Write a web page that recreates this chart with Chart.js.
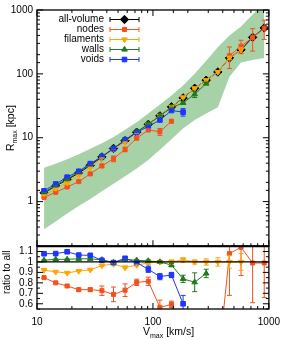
<!DOCTYPE html>
<html><head><meta charset="utf-8">
<script src="https://cdn.jsdelivr.net/npm/chart.js@4.4.1/dist/chart.umd.min.js"></script>
<style>html,body{margin:0;padding:0;background:#fff}#wrap{position:relative;width:287px;height:340px}</style>
</head><body><div id="wrap"><canvas id="c" width="287" height="340"></canvas></div>
<script>
// ---- data ----
const vmax = [11.5,14.5,18.2,22.9,28.8,36.3,45.7,57.5,72.4,91.2,114.8,144.5,182,229,288,363,457,575,724,912];
const allVolume = [1.37,1.75,2.2,2.8,3.7,5.0,6.8,9.0,12.2,16.2,22.0,30.5,42,59.5,79.5,107,178,238,373,524];
const bandHigh = [3.4,3.9,4.6,5.5,6.7,8.2,10.3,13.3,17.5,24,33,46,66,100,160,260,400,550,850,1300];
const bandLow = [0.37,0.49,0.65,0.85,1.1,1.45,1.9,2.5,3.3,4.5,6.5,9.5,14,19,24,30,90,150,165,178];
const nodesRatio = [0.85,0.80,0.77,0.735,0.735,0.725,0.69,0.73,0.805,0.815,0.565,0.595,0,0,0,0,1.08,1.14,0.99,0.99];
const nodesErr = [0.008,0.008,0.01,0.015,0.015,0.045,0.07,0.06,0.03,0.04,0.07,0.03,0,0,0,0,0.4,0.27,0.38,0.33];
const filamentsRatio = [0.922,0.905,0.895,0.913,0.925,0.965,0.98,0.947,0.97,0.99,1.0,1.0,1.02,1.0,1.0,1.0,1.0,1.0,null,null];
const filamentsErr = [0.004,0.004,0.005,0.005,0.006,0.007,0.008,0.01,0.01,0.012,0.015,0.02,0.02,0.02,0.03,0.04,0.06,0.08,null,null];
const wallsRatio = [1.016,1.025,1.025,1.03,1.03,1.02,0.994,1.025,1.016,1.01,1.0,0.97,0.838,0.806,0.89,null,null,null,null,null];
const wallsErr = [0.003,0.003,0.003,0.004,0.004,0.005,0.006,0.007,0.008,0.01,0.012,0.015,0.035,0.09,0.04,null,null,null,null,null];
const voidsRatio = [1.078,1.08,1.097,1.066,1.063,1.016,0.994,1.035,0.994,0.93,0.86,0.875,0.60,null,null,null,null,null,null,null];
const voidsErr = [0.003,0.003,0.004,0.005,0.006,0.008,0.02,0.01,0.01,0.03,0.03,0.025,0.08,null,null,null,null,null,null,null];
const xTickLabels = [10,100,1000];
const yTickLabels = [1,10,100,1000];
const ratioTickLabels = [0.6,0.7,0.8,0.9,1,1.1];
const seriesNames = ['all-volume','nodes','filaments','walls','voids'];

// ---- styling ----
const FONT = "'Liberation Sans', Arial, Helvetica, sans-serif";
Chart.defaults.font.family = FONT;
Chart.defaults.font.size = 10;
Chart.defaults.color = '#000';
const COL = {all:'#000000', nodes:'#f4511e', fil:'#ffa500', walls:'#1e7b1e', voids:'#1f35ff'};
const STY = {all:['diamond',4.2], nodes:['square',2.8], fil:['tridown',3.2], walls:['tri',3.2], voids:['square',3.2]};

function pts(arr){ return vmax.map((x,i)=>({x:x, y:(arr[i]===null||arr[i]===0)?null:arr[i]})); }
function ratioPts(arr){ return vmax.map((x,i)=>({x:x, y:arr[i]})); }
function scaled(r){ return vmax.map((x,i)=>({x:x, y:(r[i]===null||r[i]===0)?null:allVolume[i]*r[i]})); }
function errTop(r,e){ return r.map((v,i)=>(v===null||v===0||!e[i])?null:[allVolume[i]*(v-e[i]), allVolume[i]*(v+e[i])]); }
function errRat(r,e){ return r.map((v,i)=>(v===null||v===0||!e[i])?null:[v-e[i], v+e[i]]); }
function pstyle(k){ const s=STY[k][0]; return s==='diamond'?'rectRot':(s==='square'?'rect':'triangle'); }
function prot(k){ return STY[k][0]==='tridown'?180:0; }
function prad(k){ return STY[k][0]==='square'?STY[k][1]/Math.SQRT1_2*0.72:STY[k][1]; }

function line(key, data, axis, order, errs){
  return {data:data, yAxisID:axis, xAxisID:'x', borderColor:COL[key], backgroundColor:COL[key],
    pointBackgroundColor:COL[key], pointBorderColor:COL[key], borderWidth:1, pointBorderWidth:1,
    pointStyle:pstyle(key), pointRotation:prot(key), pointRadius:prad(key), pointHoverRadius:prad(key),
    fill:false, tension:0, spanGaps:false, order:order, errs:errs};
}

const datasets = [
  {data:pts(bandHigh), yAxisID:'y', xAxisID:'x', borderWidth:0, pointRadius:0, fill:'+1', backgroundColor:'rgba(34,139,34,0.4)', borderColor:'rgba(0,0,0,0)', order:20, tension:0},
  {data:pts(bandLow), yAxisID:'y', xAxisID:'x', borderWidth:0, pointRadius:0, fill:false, borderColor:'rgba(0,0,0,0)', order:21, tension:0},
  line('all', pts(allVolume), 'y', 9, null),
  line('nodes', scaled(nodesRatio), 'y', 8, errTop(nodesRatio,nodesErr)),
  line('fil', scaled(filamentsRatio), 'y', 7, errTop(filamentsRatio,filamentsErr)),
  line('walls', scaled(wallsRatio), 'y', 6, errTop(wallsRatio,wallsErr)),
  line('voids', scaled(voidsRatio), 'y', 5, errTop(voidsRatio,voidsErr)),
  line('nodes', ratioPts(nodesRatio), 'yr', 8, errRat(nodesRatio,nodesErr)),
  line('fil', ratioPts(filamentsRatio), 'yr', 7, errRat(filamentsRatio,filamentsErr)),
  line('walls', ratioPts(wallsRatio), 'yr', 6, errRat(wallsRatio,wallsErr)),
  line('voids', ratioPts(voidsRatio), 'yr', 5, errRat(voidsRatio,voidsErr))
];

function drawMarker(ctx, key, x, y){
  const s = STY[key][0], r = STY[key][1];
  ctx.save(); ctx.fillStyle = COL[key]; ctx.strokeStyle = COL[key]; ctx.lineWidth = 1;
  ctx.beginPath();
  if (s==='diamond'){ ctx.moveTo(x,y-r); ctx.lineTo(x+r,y); ctx.lineTo(x,y+r); ctx.lineTo(x-r,y); }
  else if (s==='square'){ const h=r*0.72; ctx.rect(x-h,y-h,2*h,2*h); }
  else if (s==='tri'){ for(let k=0;k<3;k++){const a=k*2*Math.PI/3; ctx.lineTo(x+Math.sin(a)*r, y-Math.cos(a)*r);} }
  else { for(let k=0;k<3;k++){const a=Math.PI+k*2*Math.PI/3; ctx.lineTo(x+Math.sin(a)*r, y-Math.cos(a)*r);} }
  ctx.closePath(); ctx.fill(); ctx.stroke(); ctx.restore();
}

function drawSubText(ctx, main, sub, rest, x, y, size, align){
  ctx.font = size+'px '+FONT;
  const w1 = ctx.measureText(main).width;
  ctx.font = Math.round(size*0.7)+'px '+FONT;
  const w2 = ctx.measureText(sub).width;
  ctx.font = size+'px '+FONT;
  const w3 = ctx.measureText(rest).width;
  let x0 = align==='center' ? x-(w1+w2+w3)/2 : x;
  ctx.textAlign='left'; ctx.textBaseline='alphabetic';
  ctx.fillText(main, x0, y);
  ctx.font = Math.round(size*0.7)+'px '+FONT;
  ctx.fillText(sub, x0+w1, y+size*0.3);
  ctx.font = size+'px '+FONT;
  ctx.fillText(rest, x0+w1+w2, y);
}

const decor = {
  id:'decor',
  afterDatasetsDraw(chart){
    const ctx = chart.ctx, xs = chart.scales.x, ys = chart.scales.y, yr = chart.scales.yr;
    // error bars
    chart.data.datasets.forEach(ds=>{
      if(!ds.errs) return;
      const yS = chart.scales[ds.yAxisID];
      ctx.save(); ctx.beginPath(); ctx.rect(xs.left, yS.top, xs.right-xs.left, yS.bottom-yS.top); ctx.clip();
      ctx.strokeStyle = ds.borderColor; ctx.lineWidth = 1;
      ds.errs.forEach((e,k)=>{
        if(!e) return;
        const px = xs.getPixelForValue(ds.data[k].x);
        const lo = Math.max(e[0], yS.type==='logarithmic'?1e-3:-10);
        const p1 = yS.getPixelForValue(lo), p2 = yS.getPixelForValue(e[1]);
        ctx.beginPath();
        ctx.moveTo(px, p1); ctx.lineTo(px, p2);
        ctx.moveTo(px-2.5, p1); ctx.lineTo(px+2.5, p1);
        ctx.moveTo(px-2.5, p2); ctx.lineTo(px+2.5, p2);
        ctx.stroke();
      });
      ctx.restore();
    });
    // reference line at ratio 1
    ctx.save(); ctx.strokeStyle='#000'; ctx.lineWidth=1.2;
    const y1 = yr.getPixelForValue(1);
    ctx.beginPath(); ctx.moveTo(xs.left, y1); ctx.lineTo(xs.right, y1); ctx.stroke();
    ctx.restore();
    // frames and inward ticks
    ctx.save(); ctx.strokeStyle='#000'; ctx.lineWidth=1;
    const L = xs.left, R = xs.right;
    ctx.beginPath();
    xs.ticks.forEach(t=>{
      const v=t.value, px=xs.getPixelForValue(v);
      const major = Math.abs(Math.log10(v)-Math.round(Math.log10(v)))<1e-6;
      const len = major?6:3;
      ctx.moveTo(px, ys.top); ctx.lineTo(px, ys.top+len);
      ctx.moveTo(px, ys.bottom); ctx.lineTo(px, ys.bottom-len);
      ctx.moveTo(px, yr.bottom); ctx.lineTo(px, yr.bottom-len);
    });
    ys.ticks.forEach(t=>{
      const v=t.value, py=ys.getPixelForValue(v);
      const major = Math.abs(Math.log10(v)-Math.round(Math.log10(v)))<1e-6;
      const len = major?6:3;
      ctx.moveTo(L, py); ctx.lineTo(L+len, py);
      ctx.moveTo(R, py); ctx.lineTo(R-len, py);
    });
    yr.ticks.forEach(t=>{
      const v=t.value, py=yr.getPixelForValue(v);
      const major = Math.abs(v*10-Math.round(v*10))<1e-6;
      const len = major?6:3;
      ctx.moveTo(L, py); ctx.lineTo(L+len, py);
      ctx.moveTo(R, py); ctx.lineTo(R-len, py);
    });
    ctx.stroke();
    ctx.lineWidth=1.3;
    ctx.strokeRect(L, ys.top, R-L, ys.bottom-ys.top);
    ctx.strokeRect(L, yr.top, R-L, yr.bottom-yr.top);
    ctx.lineWidth=2;
    ctx.beginPath(); ctx.moveTo(L, yr.top); ctx.lineTo(R, yr.top); ctx.stroke();
    ctx.restore();
    // legend
    const keys = ['all','nodes','fil','walls','voids'];
    ctx.save();
    keys.forEach((k,i)=>{
      const yy = ys.top + 9.5 + 10*i;
      ctx.font = '10px '+FONT; ctx.fillStyle='#000'; ctx.textAlign='right'; ctx.textBaseline='middle';
      ctx.fillText(seriesNames[i], L+67, yy);
      const a = L+73, b = L+102;
      ctx.strokeStyle = COL[k]; ctx.lineWidth=1;
      ctx.beginPath(); ctx.moveTo(a,yy); ctx.lineTo(b,yy);
      ctx.moveTo(a,yy-2.5); ctx.lineTo(a,yy+2.5); ctx.moveTo(b,yy-2.5); ctx.lineTo(b,yy+2.5);
      ctx.stroke();
      drawMarker(ctx, k, (a+b)/2, yy);
    });
    ctx.restore();
    // axis titles
    ctx.save(); ctx.fillStyle='#000';
    ctx.translate(14, (ys.top+ys.bottom)/2); ctx.rotate(-Math.PI/2);
    drawSubText(ctx, 'R', 'max', ' [kpc]', 0, 0, 10.5, 'center');
    ctx.restore();
    ctx.save(); ctx.fillStyle='#000';
    ctx.translate(10, yr.top+26); ctx.rotate(-Math.PI/2);
    ctx.font='10px '+FONT; ctx.textAlign='center'; ctx.textBaseline='alphabetic';
    ctx.fillText('ratio to all', 0, 0);
    ctx.restore();
    ctx.save(); ctx.fillStyle='#000';
    drawSubText(ctx, 'V', 'max', ' [km/s]', 143, 335, 10.5, 'left');
    ctx.restore();
  }
};

new Chart(document.getElementById('c'), {
  type:'line',
  data:{datasets:datasets},
  options:{
    responsive:false, animation:false, devicePixelRatio:1,
    layout:{padding:{left:0, right:13, top:4, bottom:0}},
    plugins:{legend:{display:false}, tooltip:{enabled:false}},
    scales:{
      x:{type:'logarithmic', position:'bottom', min:10, max:1000,
         grid:{display:false, drawTicks:false}, border:{display:false},
         ticks:{autoSkip:false, maxRotation:0, padding:7,
           callback:(v)=> xTickLabels.includes(v)? String(v) : ''},
         afterFit:(s)=>{s.height=31;}},
      y:{type:'logarithmic', position:'left', stack:'p', stackWeight:241, weight:2, min:0.2, max:1000,
         grid:{display:false, drawTicks:false}, border:{display:false},
         ticks:{autoSkip:false, padding:4, callback:(v)=> yTickLabels.includes(v)? String(v) : ''},
         afterFit:(s)=>{s.width=37;}},
      yr:{type:'linear', position:'left', stack:'p', stackWeight:64, weight:1, min:0.55, max:1.15,
         grid:{display:false, drawTicks:false}, border:{display:false},
         ticks:{autoSkip:false, stepSize:0.05, padding:4,
           callback:(v)=>{ const m = ratioTickLabels.find(t=>Math.abs(t-v)<1e-6); return m===undefined? '' : String(m); }},
         afterFit:(s)=>{s.width=37;}}
    }
  },
  plugins:[decor]
});
</script></body></html>
